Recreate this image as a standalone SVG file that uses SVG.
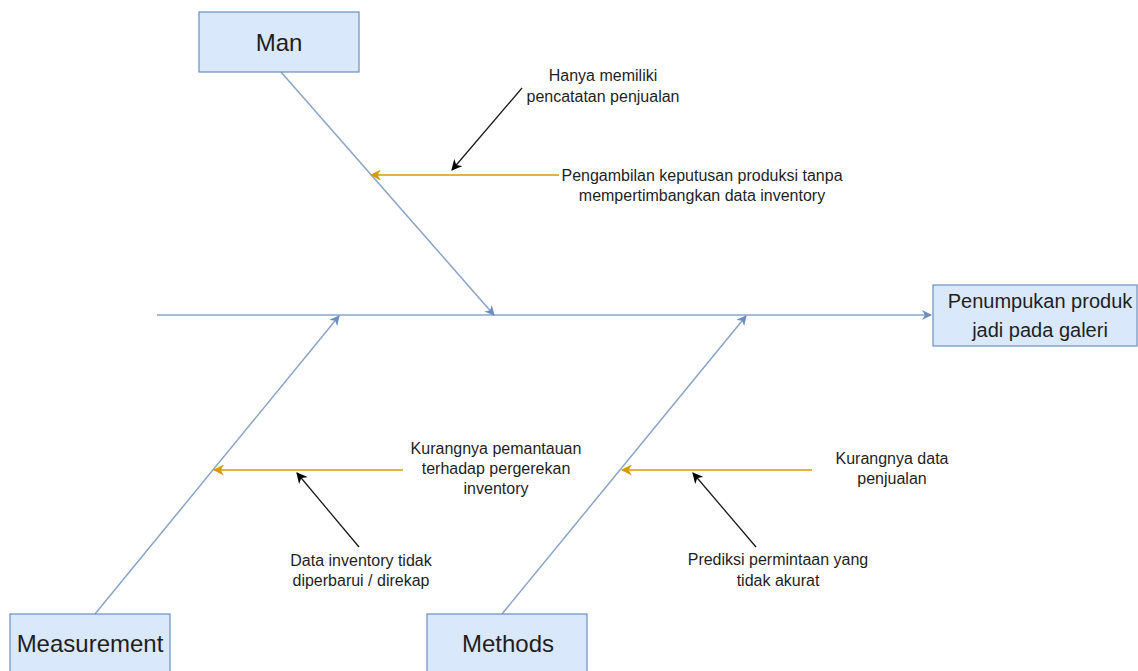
<svg xmlns="http://www.w3.org/2000/svg" width="1138" height="671" viewBox="0 0 1138 671">
  <style>
    .box { fill: #dae8fc; stroke: #6c8ebf; stroke-width: 1.2; }
    .cat { font-family: "Liberation Sans", Arial, sans-serif; font-size: 24px; fill: #1f1f1f; text-anchor: middle; }
    .eff { font-family: "Liberation Sans", Arial, sans-serif; font-size: 20px; fill: #1f1f1f; text-anchor: middle; }
    .note { font-family: "Liberation Sans", Arial, sans-serif; font-size: 16px; fill: #1f1f1f; text-anchor: middle; }
    .bone { stroke: #8aa3c8; stroke-width: 1.5; fill: none; }
    .cause { stroke: #d79b00; stroke-width: 1.3; fill: none; }
    .sub { stroke: #1a1a1a; stroke-width: 1.3; fill: none; }
  </style>
  <defs>
    <marker id="ahBlue" viewBox="0 0 10 10" refX="9" refY="5" markerWidth="10" markerHeight="10" markerUnits="userSpaceOnUse" orient="auto">
      <path d="M0,0 L10,5 L0,10 L3,5 Z" fill="#6c8ebf"/>
    </marker>
    <marker id="ahOrange" viewBox="0 0 10 10" refX="9" refY="5" markerWidth="11" markerHeight="11" markerUnits="userSpaceOnUse" orient="auto">
      <path d="M0,0 L10,5 L0,10 L3,5 Z" fill="#d79b00"/>
    </marker>
    <marker id="ahBlack" viewBox="0 0 10 10" refX="9" refY="5" markerWidth="11" markerHeight="11" markerUnits="userSpaceOnUse" orient="auto">
      <path d="M0,0 L10,5 L0,10 L3,5 Z" fill="#000"/>
    </marker>
  </defs>

  <rect width="1138" height="671" fill="#ffffff"/>

  <!-- connectors -->
  <g id="connectors">
    <line class="bone" x1="157" y1="315" x2="931" y2="315" marker-end="url(#ahBlue)"/>
    <line class="bone" x1="281" y1="72" x2="494" y2="315" marker-end="url(#ahBlue)"/>
    <line class="bone" x1="95" y1="614" x2="339" y2="316" marker-end="url(#ahBlue)"/>
    <line class="bone" x1="502" y1="614" x2="746" y2="316" marker-end="url(#ahBlue)"/>

    <line class="cause" x1="559" y1="175" x2="371" y2="175" marker-end="url(#ahOrange)"/>
    <line class="cause" x1="403" y1="470" x2="214" y2="470" marker-end="url(#ahOrange)"/>
    <line class="cause" x1="812" y1="470" x2="622" y2="470" marker-end="url(#ahOrange)"/>

    <line class="sub" x1="522" y1="88" x2="452" y2="170" marker-end="url(#ahBlack)"/>
    <line class="sub" x1="359" y1="547" x2="297" y2="473" marker-end="url(#ahBlack)"/>
    <line class="sub" x1="756" y1="547" x2="693" y2="473" marker-end="url(#ahBlack)"/>
  </g>

  <!-- category boxes -->
  <g id="man">
    <rect class="box" x="199" y="12" width="160" height="60"/>
    <text class="cat" x="279" y="51">Man</text>
  </g>
  <g id="measurement">
    <rect class="box" x="10" y="614" width="160" height="60"/>
    <text class="cat" x="90" y="652">Measurement</text>
  </g>
  <g id="methods">
    <rect class="box" x="427" y="614" width="160" height="60"/>
    <text class="cat" x="508" y="652">Methods</text>
  </g>

  <!-- effect -->
  <g id="effect">
    <rect class="box" x="933" y="285" width="204" height="61"/>
    <text class="eff" x="1040" y="308">Penumpukan produk</text>
    <text class="eff" x="1040" y="337">jadi pada galeri</text>
  </g>

  <!-- causes -->
  <g id="cause-man-1">
    <text class="note" x="603" y="81">Hanya memiliki</text>
    <text class="note" x="603" y="102">pencatatan penjualan</text>
  </g>
  <g id="cause-man-2">
    <text class="note" x="702" y="181">Pengambilan keputusan produksi tanpa</text>
    <text class="note" x="702" y="201">mempertimbangkan data inventory</text>
  </g>
  <g id="cause-measurement-1">
    <text class="note" x="496" y="454">Kurangnya pemantauan</text>
    <text class="note" x="496" y="474">terhadap pergerekan</text>
    <text class="note" x="496" y="494">inventory</text>
  </g>
  <g id="cause-measurement-2">
    <text class="note" x="361" y="566">Data inventory tidak</text>
    <text class="note" x="361" y="586">diperbarui / direkap</text>
  </g>
  <g id="cause-methods-1">
    <text class="note" x="892" y="464">Kurangnya data</text>
    <text class="note" x="892" y="484">penjualan</text>
  </g>
  <g id="cause-methods-2">
    <text class="note" x="778" y="565">Prediksi permintaan yang</text>
    <text class="note" x="778" y="586">tidak akurat</text>
  </g>
</svg>
